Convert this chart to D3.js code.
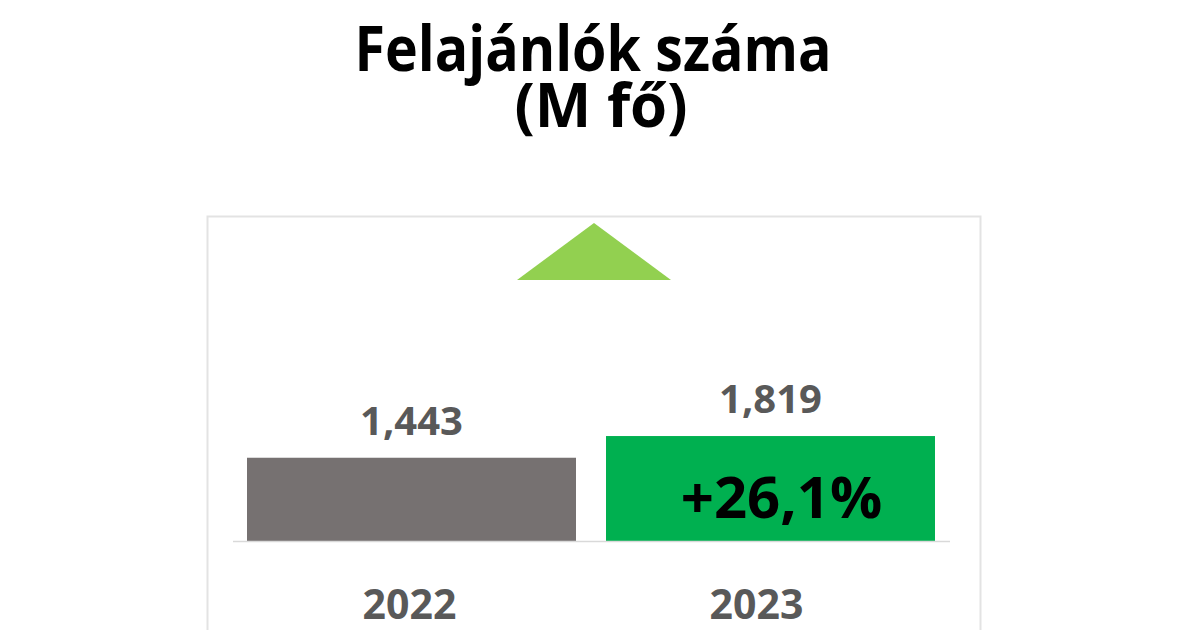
<!DOCTYPE html>
<html><head><meta charset="utf-8">
<script src="https://cdn.jsdelivr.net/npm/d3@7/dist/d3.min.js"></script>
<style>body{margin:0;background:#fff}svg{display:block}text{font-family:"Open Sans",sans-serif;font-weight:700}</style>
</head><body>
<svg id="c" width="1200" height="630"></svg>
<script>
const categories = ["2022", "2023"];
const values = [1.443, 1.819];
const valueLabels = ["1,443", "1,819"];
const changeLabel = "+26,1%";
const titleLines = ["Felajánlók száma", "(M fő)"];
const barColors = ["#767171", "#00B050"];

const svg = d3.select("#c");

// title (one text element, two lines)
const title = svg.append("text").attr("text-anchor", "middle").attr("fill", "#000");
title.append("tspan").attr("x", 593).attr("y", 71).attr("font-size", 62)
  .attr("textLength", 477).attr("lengthAdjust", "spacingAndGlyphs").text(titleLines[0]);
title.append("tspan").attr("x", 601).attr("y", 127).attr("font-size", 60)
  .attr("textLength", 173).attr("lengthAdjust", "spacingAndGlyphs").text(titleLines[1]);

// chart box
svg.append("rect").attr("x", 207.5).attr("y", 216.5).attr("width", 773).attr("height", 430)
  .attr("fill", "none").attr("stroke", "#e3e3e3").attr("stroke-width", 2);

const x = d3.scaleBand().domain(categories).range([232, 950]).paddingInner(0.0836).paddingOuter(0.0418);
const y = d3.scaleLinear().domain([0, 5]).range([541, 252.5]);

// triangle marker
svg.append("path").attr("d", "M517,280 L594,223 L671,280 Z").attr("fill", "#92D050");

// bars
svg.selectAll("rect.bar").data(values).enter().append("rect").attr("class", "bar")
  .attr("x", (d, i) => x(categories[i]))
  .attr("width", x.bandwidth())
  .attr("y", d => y(d))
  .attr("height", d => y(0) - y(d))
  .attr("fill", (d, i) => barColors[i]);

// baseline
svg.append("line").attr("x1", 233).attr("x2", 950).attr("y1", y(0) + 0.5).attr("y2", y(0) + 0.5)
  .attr("stroke", "#d9d9d9").attr("stroke-width", 1.5);

// value labels
svg.selectAll("text.val").data(values).enter().append("text").attr("class", "val")
  .attr("x", (d, i) => x(categories[i]) + x.bandwidth() / 2)
  .attr("y", d => y(d) - 23)
  .attr("text-anchor", "middle").attr("font-size", 40).attr("fill", "#595959")
  .text((d, i) => valueLabels[i]);

// change label
svg.append("text").attr("x", x(categories[1]) + x.bandwidth() / 2 + 11).attr("y", 518)
  .attr("text-anchor", "middle").attr("font-size", 58).attr("fill", "#000").text(changeLabel);

// category labels
const catDx = [-2, -14];
svg.selectAll("text.cat").data(categories).enter().append("text").attr("class", "cat")
  .attr("x", (d, i) => x(d) + x.bandwidth() / 2 + catDx[i])
  .attr("y", 619).attr("text-anchor", "middle").attr("font-size", 41).attr("fill", "#595959")
  .text(d => d);
</script>
</body></html>
